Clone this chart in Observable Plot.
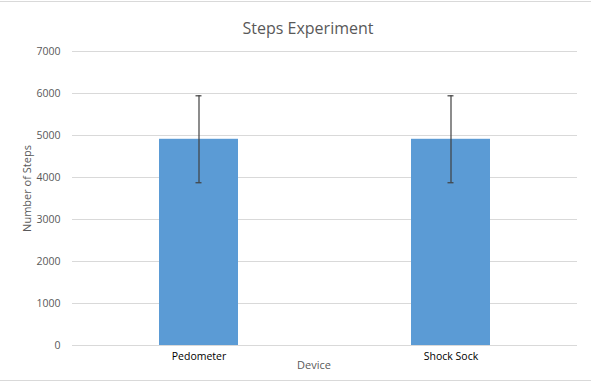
<!DOCTYPE html>
<html>
<head>
<meta charset="utf-8">
<script src="https://cdn.jsdelivr.net/npm/d3@7"></script>
<script src="https://cdn.jsdelivr.net/npm/@observablehq/plot@0.6"></script>
<style>
  body { margin: 0; background: #fff; }
  #wrap { position: relative; width: 591px; height: 382px; overflow: hidden; background: #fff; font-family: "Open Sans", sans-serif; }
  .hline { position: absolute; left: 0; width: 591px; height: 1px; background: #d9d9d9; }
  #title { position: absolute; top: 20px; left: 0; width: 616px; text-align: center; font-size: 16px; line-height: 1; color: #595959; }
  #chart { position: absolute; top: 40px; left: 0; }
</style>
</head>
<body>
<div id="wrap">
  <div class="hline" style="top:1px"></div>
  <div class="hline" style="top:380px"></div>
  <div id="title">Steps Experiment</div>
  <div id="chart"></div>
</div>
<script>
const devices = ["Pedometer", "Shock Sock"];
const meanSteps = [4910, 4910];
const errorSteps = [1035, 1035];
const yTicks = [0, 1000, 2000, 3000, 4000, 5000, 6000, 7000];

const data = devices.map((d, i) => ({device: d, steps: meanSteps[i], lo: meanSteps[i] - errorSteps[i], hi: meanSteps[i] + errorSteps[i]}));

const plot = Plot.plot({
  width: 591,
  height: 342,
  marginTop: 11,
  marginBottom: 37,
  marginLeft: 72,
  marginRight: 14,
  style: {fontFamily: "Open Sans, sans-serif", fontSize: "10.5px", background: "transparent"},
  x: {domain: devices, paddingInner: 0.686, paddingOuter: 0.343, label: null},
  y: {domain: [0, 7000], ticks: yTicks, label: null},
  marks: [
    Plot.gridY(yTicks, {stroke: "#d9d9d9", strokeOpacity: 1, strokeWidth: 1}),
    Plot.axisY(yTicks, {tickSize: 0, tickPadding: 12, fill: "#595959", fontSize: 10.5, label: null, tickFormat: d => String(d)}),
    Plot.barY(data, {x: "device", y: "steps", fill: "#5b9bd5"}),
    Plot.ruleX(data, {x: "device", y1: "lo", y2: "hi", stroke: "#404040", strokeWidth: 1.2}),
    Plot.tickY(data, {x: "device", y: "lo", stroke: "#404040", strokeWidth: 1.2, insetLeft: 36.5, insetRight: 36.5}),
    Plot.tickY(data, {x: "device", y: "hi", stroke: "#404040", strokeWidth: 1.2, insetLeft: 36.5, insetRight: 36.5}),
    Plot.axisX({tickSize: 0, tickPadding: 7, fill: "#000", fontSize: 10.5, label: null}),
    Plot.text(["Device"], {frameAnchor: "bottom", dx: -11, dy: 23, fill: "#595959", fontSize: 11}),
    Plot.text(["Number of Steps"], {frameAnchor: "left", textAnchor: "middle", rotate: -90, dx: -45, dy: -10, fill: "#595959", fontSize: 11})
  ]
});
document.getElementById("chart").appendChild(plot);
</script>
</body>
</html>
